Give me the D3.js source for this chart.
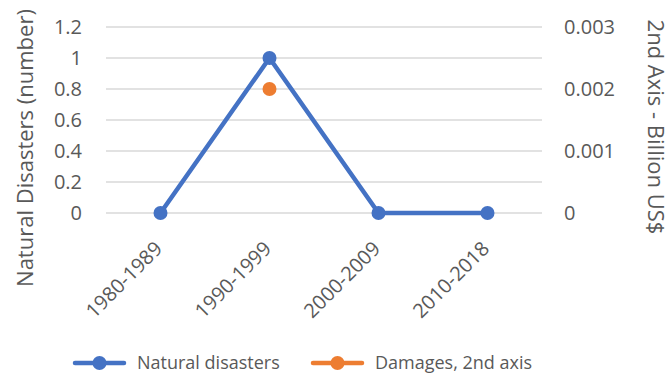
<!DOCTYPE html>
<html>
<head>
<meta charset="utf-8">
<script src="https://cdn.jsdelivr.net/npm/d3@7"></script>
<style>
  html, body { margin: 0; padding: 0; background: #fff; }
  svg { display: block; font-family: "Open Sans", sans-serif; }
</style>
</head>
<body>
<svg id="chart" width="671" height="374"></svg>
<script>
// Decades on the category axis
const categories = ["1980-1989", "1990-1999", "2000-2009", "2010-2018"];
// Count of natural disasters per decade (left axis)
const naturalDisasters = [0, 1, 0, 0];
// Damages in billion US$ per decade (right axis); blank where nothing was recorded
const damages = [null, 0.002, null, null];
// Axis ticks
const leftTicks = [0, 0.2, 0.4, 0.6, 0.8, 1, 1.2];
const rightTicks = [0, 0.001, 0.002, 0.003];

const blue = "#4472C4";
const orange = "#ED7D31";
const textColor = "#595959";

const svg = d3.select("#chart");
const plot = { left: 106, right: 542, top: 27, bottom: 213 };

const x = d3.scaleBand().domain(categories).range([plot.left, plot.right]);
const yL = d3.scaleLinear().domain([0, 1.2]).range([plot.bottom, plot.top]);
const yR = d3.scaleLinear().domain([0, 0.003]).range([plot.bottom, plot.top]);
const cx = c => x(c) + x.bandwidth() / 2;

// Horizontal gridlines
svg.append("g")
  .selectAll("line")
  .data(leftTicks)
  .join("line")
  .attr("x1", plot.left).attr("x2", plot.right)
  .attr("y1", d => yL(d)).attr("y2", d => yL(d))
  .attr("stroke", "#d9d9d9").attr("stroke-width", 1.3);

// Left axis labels
const leftAxis = d3.axisLeft(yL).tickValues(leftTicks).tickSize(0).tickPadding(0)
  .tickFormat(d3.format("~g"));
const gL = svg.append("g").attr("transform", `translate(82,0)`).call(leftAxis);
gL.select(".domain").remove();
gL.selectAll("text").attr("fill", textColor).style("font-size", "20px")
  .style("font-family", "'Open Sans', sans-serif");

// Right axis labels
const rightAxis = d3.axisRight(yR).tickValues(rightTicks).tickSize(0).tickPadding(0)
  .tickFormat(d => d === 0 ? "0" : d3.format(".3f")(d));
const gR = svg.append("g").attr("transform", `translate(564,0)`).call(rightAxis);
gR.select(".domain").remove();
gR.selectAll("text").attr("fill", textColor).style("font-size", "20px")
  .style("font-family", "'Open Sans', sans-serif");

// Category labels, rotated
const xAxis = d3.axisBottom(x).tickSize(0).tickPadding(0);
const gX = svg.append("g").attr("transform", `translate(0,${plot.bottom})`).call(xAxis);
gX.select(".domain").remove();
gX.selectAll("text")
  .attr("fill", textColor).style("font-size", "20px")
  .style("font-family", "'Open Sans', sans-serif")
  .attr("text-anchor", "end")
  .attr("dy", null).attr("y", 0)
  .attr("transform", "translate(3,37) rotate(-45)");

// Axis titles
svg.append("text")
  .attr("transform", "translate(33,148) rotate(-90)")
  .attr("text-anchor", "middle")
  .attr("fill", textColor).style("font-size", "22px")
  .text("Natural Disasters (number)");
svg.append("text")
  .attr("transform", "translate(648,127) rotate(90)")
  .attr("text-anchor", "middle")
  .attr("fill", textColor).style("font-size", "22px")
  .text("2nd Axis - Billion US$");

// Natural disasters line with markers
const line = d3.line()
  .defined(d => d.v != null)
  .x(d => cx(d.c)).y(d => yL(d.v));
const nd = categories.map((c, i) => ({ c, v: naturalDisasters[i] }));
svg.append("path").datum(nd)
  .attr("d", line).attr("fill", "none")
  .attr("stroke", blue).attr("stroke-width", 4.5)
  .attr("stroke-linejoin", "round").attr("stroke-linecap", "round");
svg.append("g").selectAll("circle").data(nd).join("circle")
  .attr("cx", d => cx(d.c)).attr("cy", d => yL(d.v)).attr("r", 7)
  .attr("fill", blue);

// Damages on the secondary axis
const dm = categories.map((c, i) => ({ c, v: damages[i] })).filter(d => d.v != null);
const lineR = d3.line().x(d => cx(d.c)).y(d => yR(d.v));
svg.append("path").datum(dm)
  .attr("d", lineR).attr("fill", "none")
  .attr("stroke", orange).attr("stroke-width", 4.5);
svg.append("g").selectAll("circle").data(dm).join("circle")
  .attr("cx", d => cx(d.c)).attr("cy", d => yR(d.v)).attr("r", 7)
  .attr("fill", orange);

// Legend
const legendItems = [
  { label: "Natural disasters", color: blue, x: 75 },
  { label: "Damages, 2nd axis", color: orange, x: 313 }
];
const lg = svg.append("g").selectAll("g").data(legendItems).join("g")
  .attr("transform", d => `translate(${d.x},363)`);
lg.append("line").attr("x1", 0).attr("x2", 49).attr("y1", 0).attr("y2", 0)
  .attr("stroke", d => d.color).attr("stroke-width", 4.5).attr("stroke-linecap", "round");
lg.append("circle").attr("cx", 24.5).attr("cy", 0).attr("r", 7).attr("fill", d => d.color);
lg.append("text").attr("x", 62).attr("y", 0).attr("dy", "0.35em")
  .attr("fill", textColor).style("font-size", "18px")
  .text(d => d.label);
</script>
</body>
</html>
